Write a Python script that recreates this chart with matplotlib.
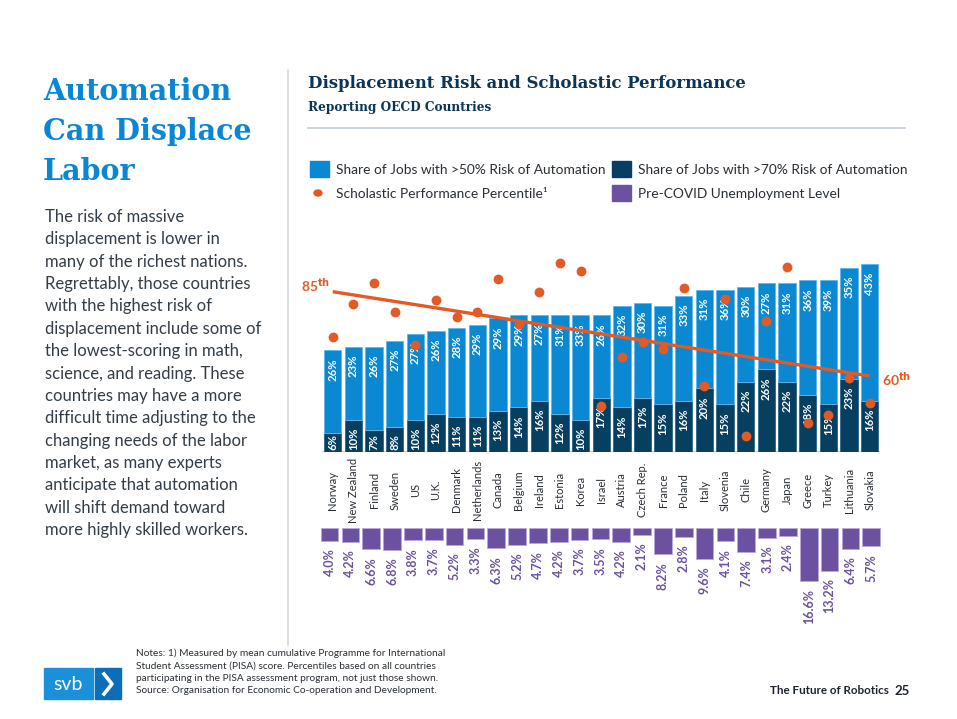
import matplotlib.pyplot as plt
import matplotlib.transforms as mtransforms
from matplotlib.patches import Rectangle, Circle
import numpy as np

W, H = 957, 719

countries = ["Norway", "New Zealand", "Finland", "Sweden", "US", "U.K.", "Denmark",
             "Netherlands", "Canada", "Belgium", "Ireland", "Estonia", "Korea", "Israel",
             "Austria", "Czech Rep.", "France", "Poland", "Italy", "Slovenia", "Chile",
             "Germany", "Japan", "Greece", "Turkey", "Lithuania", "Slovakia"]
risk70 = [6, 10, 7, 8, 10, 12, 11, 11, 13, 14, 16, 12, 10, 17,
          14, 17, 15, 16, 20, 15, 22, 26, 22, 18, 15, 23, 16]
risk50 = [26, 23, 26, 27, 27, 26, 28, 29, 29, 29, 27, 31, 33, 26,
          32, 30, 31, 33, 31, 36, 30, 27, 31, 36, 39, 35, 43]
pisa_pct = [71.5, 81.4, 87.5, 78.9, 69.2, 82.5, 77.6, 79.0, 88.7, 75.4, 84.9, 93.4, 91.0, 51.1,
            65.5, 70.2, 67.9, 86.2, 57.0, 82.7, 42.3, 76.4, 92.2, 46.0, 48.5, 59.3, 52.0]
trend_ends = [85, 60]
unemployment = [4.0, 4.2, 6.6, 6.8, 3.8, 3.7, 5.2, 3.3, 6.3, 5.2, 4.7, 4.2, 3.7, 3.5,
                4.2, 2.1, 8.2, 2.8, 9.6, 4.1, 7.4, 3.1, 2.4, 16.6, 13.2, 6.4, 5.7]

LIGHT = "#0a88d2"
DARK = "#073f60"
ORANGE = "#e25a26"
PURPLE = "#6b51a0"
NAVY = "#0b3556"
TEXT = "#333d47"

plt.rcParams["font.family"] = ["Lato", "DejaVu Sans"]


def fx(x):
    return x / W


def fy(y):
    return 1 - y / H


def axes_rect(left, right, top, bottom):
    return [fx(left), fy(bottom), (right - left) / W, (bottom - top) / H]


fig = plt.figure(figsize=(W / 100, H / 100), dpi=100)
fig.patch.set_facecolor("white")

# ---- main stacked bars ----
ax = fig.add_axes(axes_rect(322.4, 880.0, 240, 452))
x = np.arange(len(countries))
bw = 0.84
ax.bar(x, risk70, width=bw, color=DARK, edgecolor="#2d6585", linewidth=0.6, zorder=2)
ax.bar(x, risk50, bottom=risk70, width=bw, color=LIGHT, edgecolor="#62b6ea",
       linewidth=0.6, zorder=2)
ax.set_xlim(-0.5, len(countries) - 0.5)
ax.set_ylim(0, 66.67)
ax.axhline(0, color="#c9cdd1", linewidth=1.5, zorder=1)
for s in ax.spines.values():
    s.set_visible(False)
ax.set_xticks([])
ax.set_yticks([])

label_kw = dict(textcoords="offset points", rotation=90, ha="center", color="white",
                fontsize=8.2, fontweight="bold", zorder=3)
for i in x:
    top = risk70[i] + risk50[i]
    ax.annotate(f"{risk50[i]}%", (i, top), xytext=(0, -5.5), va="top", **label_kw)
    if risk70[i] < 10:
        # short segment: label sits on the baseline
        ax.annotate(f"{risk70[i]}%", (i, 0), xytext=(0, 1.2), va="bottom", **label_kw)
    else:
        ax.annotate(f"{risk70[i]}%", (i, risk70[i]), xytext=(0, -5.5), va="top", **label_kw)

# country names
trans = mtransforms.blended_transform_factory(ax.transData, fig.transFigure)
for i, name in enumerate(countries):
    ax.text(i, fy(490), name, transform=trans, rotation=90, ha="center", va="center",
            fontsize=8, color="#2a2f36")

# ---- scholastic percentile ----
ax2 = ax.twinx()
ax2.set_ylim(37.46, 100.33)
ax2.set_xlim(ax.get_xlim())
for s in ax2.spines.values():
    s.set_visible(False)
ax2.set_yticks([])
ax2.plot([x[0], x[-1]], trend_ends, color=ORANGE, linewidth=2.4, zorder=4,
         solid_capstyle="butt")
ax2.scatter(x, pisa_pct, s=50, color=ORANGE, zorder=5, linewidths=0)
ax2.annotate(r"85$^{\mathbf{th}}$", (x[0], trend_ends[0]), xytext=(-2, 5),
             textcoords="offset points", ha="right", va="center", color=ORANGE,
             fontsize=10, fontweight="bold", annotation_clip=False)
ax2.annotate(r"60$^{\mathbf{th}}$", (x[-1], trend_ends[1]), xytext=(9, -2),
             textcoords="offset points", ha="left", va="center", color=ORANGE,
             fontsize=10, fontweight="bold", annotation_clip=False)

# ---- unemployment ----
ax3 = fig.add_axes(axes_rect(319.1, 881.7, 528, 620))
ax3.bar(x, unemployment, width=0.845, color=PURPLE, edgecolor="#b9a9d8", linewidth=0.6)
ax3.set_xlim(-0.5, len(countries) - 0.5)
ax3.set_ylim(28.57, 0)
for s in ax3.spines.values():
    s.set_visible(False)
ax3.set_xticks([])
ax3.set_yticks([])
for i in x:
    ax3.annotate(f"{unemployment[i]:.1f}%", (i, unemployment[i]), xytext=(0, -5.5),
                 textcoords="offset points", rotation=90, ha="center", va="top",
                 color=PURPLE, fontsize=9, fontweight="bold", annotation_clip=False)

# ---- titles ----
fig.text(fx(308), fy(84), "Displacement Risk and Scholastic Performance", family="DejaVu Serif",
         fontweight="bold", fontsize=11.9, color=NAVY, va="center", ha="left")
fig.text(fx(308), fy(107), "Reporting OECD Countries", family="DejaVu Serif",
         fontweight="bold", fontsize=8.7, color=NAVY, va="center", ha="left")
fig.add_artist(plt.Line2D([fx(308), fx(905)], [fy(128), fy(128)], color="#c5d0da",
                          linewidth=1.2, transform=fig.transFigure))

# ---- legend ----
legend_items = [
    (310, 169, "square", LIGHT, "Share of Jobs with >50% Risk of Automation"),
    (612, 169, "square", DARK, "Share of Jobs with >70% Risk of Automation"),
    (310, 193, "dot", ORANGE, "Scholastic Performance Percentile\u00b9"),
    (612, 193, "square", PURPLE, "Pre-COVID Unemployment Level"),
]
for lx, ly, kind, col, label in legend_items:
    if kind == "square":
        fig.add_artist(Rectangle((fx(lx), fy(ly + 8)), 19 / W, 16 / H, color=col,
                                 transform=fig.transFigure))
    else:
        fig.add_artist(Circle((fx(lx + 8), fy(ly)), 4 / W, color=col,
                              transform=fig.transFigure))
    fig.text(fx(lx + 26), fy(ly + 1), label, fontsize=9.9, color="#2a2f36",
             va="center", ha="left")

# ---- left panel ----
fig.add_artist(plt.Line2D([fx(288), fx(288)], [fy(70), fy(645)], color="#d6d8db",
                          linewidth=1.2, transform=fig.transFigure))
for j, line in enumerate(["Automation", "Can Displace", "Labor"]):
    fig.text(fx(43), fy(91 + 40 * j), line, family="DejaVu Serif", fontweight="bold",
             fontsize=20.6, color="#0a86d4", va="center", ha="left")

body = ["The risk of massive", "displacement is lower in", "many of the richest nations.",
        "Regrettably, those countries", "with the highest risk of",
        "displacement include some of", "the lowest-scoring in math,",
        "science, and reading. These", "countries may have a more",
        "difficult time adjusting to the", "changing needs of the labor",
        "market, as many experts", "anticipate that automation",
        "will shift demand toward", "more highly skilled workers."]
for j, line in enumerate(body):
    fig.text(fx(45), fy(217 + 22.36 * j), line, fontsize=12, color=TEXT,
             va="center", ha="left")

# ---- footer ----
notes = ["Notes: 1) Measured by mean cumulative Programme for International",
         "Student Assessment (PISA) score. Percentiles based on all countries",
         "participating in the PISA assessment program, not just those shown.",
         "Source: Organisation for Economic Co-operation and Development."]
for j, line in enumerate(notes):
    fig.text(fx(136), fy(653 + 12.6 * j), line, fontsize=7.3, color="#2a2f36",
             va="center", ha="left")

fig.add_artist(Rectangle((fx(44), fy(699)), 49 / W, 31 / H, color="#1b8fd8",
                         transform=fig.transFigure))
fig.add_artist(Rectangle((fx(95), fy(699)), 26 / W, 31 / H, color="#0c6eb8",
                         transform=fig.transFigure))
fig.text(fx(68), fy(684), "svb", fontsize=14, color="white", va="center", ha="center")
fig.add_artist(plt.Line2D([fx(104), fx(112), fx(104)], [fy(674), fy(684), fy(694)],
                          color="white", linewidth=2.6, transform=fig.transFigure))

fig.text(fx(889), fy(691), "The Future of Robotics", fontsize=8.4, fontweight="bold",
         color="#1d2430", va="center", ha="right")
fig.text(fx(910), fy(691), "25", fontsize=9.5, fontweight="bold", color="#1d2430",
         va="center", ha="right")

fig.savefig("out.png", dpi=100)
